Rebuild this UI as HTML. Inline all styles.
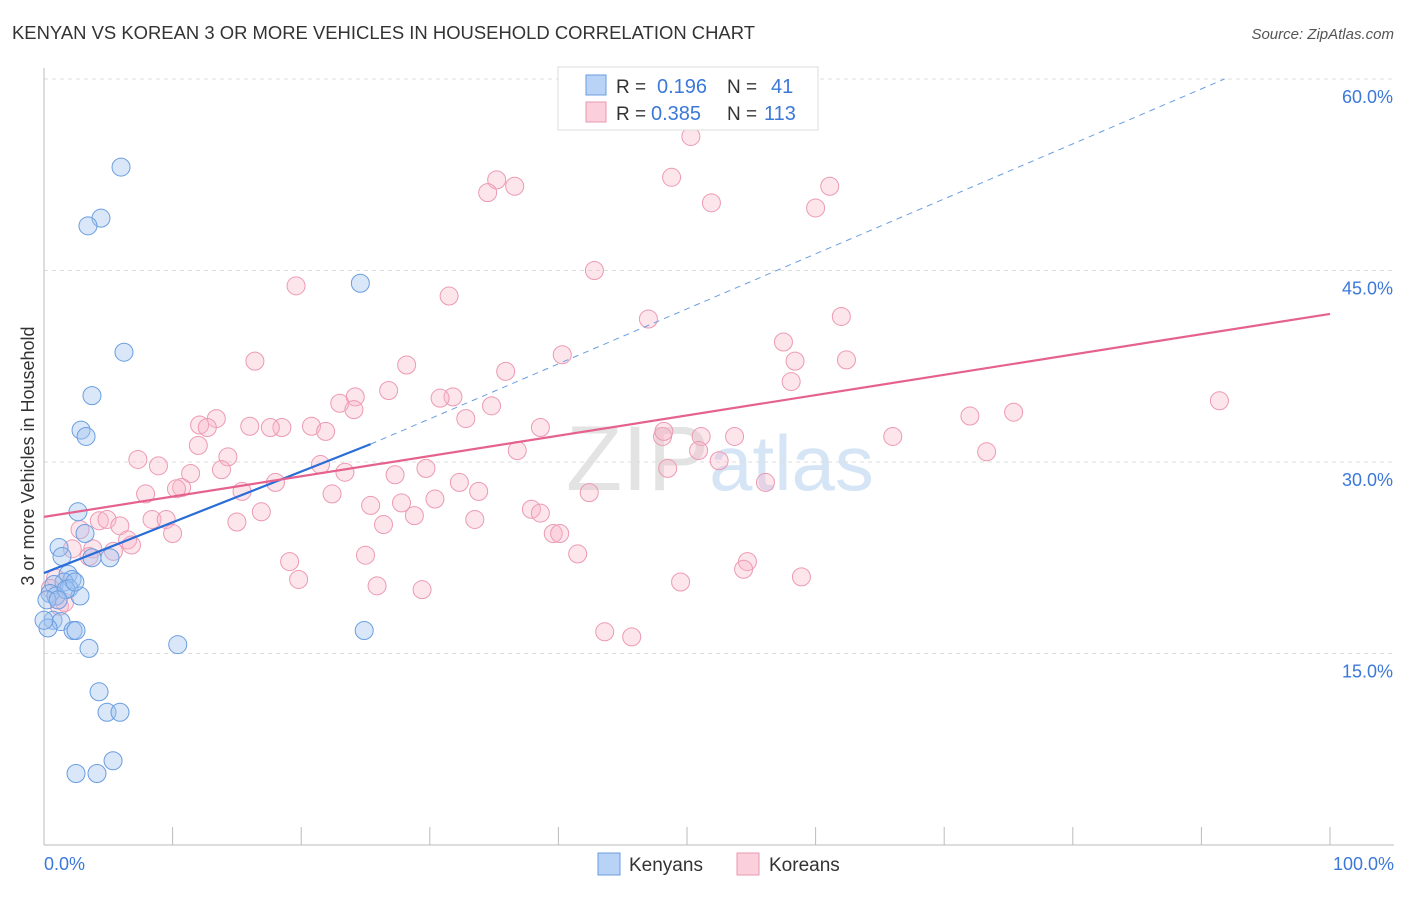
<!DOCTYPE html>
<html><head><meta charset="utf-8"><style>
body{margin:0;background:#fff;font-family:"Liberation Sans",sans-serif}
svg text{font-family:"Liberation Sans",sans-serif}
</style></head><body>
<svg id="chart" width="1406" height="892" xmlns="http://www.w3.org/2000/svg">
<text x="12" y="39" font-size="18" fill="#333" textLength="743" lengthAdjust="spacingAndGlyphs">KENYAN VS KOREAN 3 OR MORE VEHICLES IN HOUSEHOLD CORRELATION CHART</text>
<text x="1394" y="39" font-size="15" fill="#555" text-anchor="end" font-style="italic">Source: ZipAtlas.com</text>
<text x="720" y="490" font-size="92" text-anchor="middle" fill="#e3e3e3" font-family="Liberation Serif">ZIP<tspan fill="#d6e5f6" font-family="Liberation Sans" font-size="78">atlas</tspan></text>
<g id="grid"></g>
<g id="axes"></g>
<g id="marks"></g>
<text transform="translate(34,456) rotate(-90)" font-size="18" fill="#333" text-anchor="middle">3 or more Vehicles in Household</text>
<g>
<rect x="558" y="67" width="260" height="63" fill="#fff" stroke="#ddd"/>
<rect x="586" y="75" width="20" height="20" fill="#b8d3f5" stroke="#6a9ee0"/>
<text x="616" y="93" font-size="19" fill="#333">R =</text>
<text x="657" y="93" font-size="20" fill="#3b78d8">0.196</text>
<text x="727" y="93" font-size="19" fill="#333">N =</text>
<text x="771" y="93" font-size="20" fill="#3b78d8">41</text>
<rect x="586" y="102" width="20" height="20" fill="#fbd0dc" stroke="#ea9ab2"/>
<text x="616" y="120" font-size="19" fill="#333">R =</text>
<text x="651" y="120" font-size="20" fill="#3b78d8">0.385</text>
<text x="727" y="120" font-size="19" fill="#333">N =</text>
<text x="764" y="120" font-size="20" fill="#3b78d8">113</text>
</g>
<g>
<rect x="598" y="853" width="22" height="22" fill="#b8d3f5" stroke="#6a9ee0"/>
<text x="629" y="871" font-size="19" fill="#333">Kenyans</text>
<rect x="737" y="853" width="22" height="22" fill="#fbd0dc" stroke="#ea9ab2"/>
<text x="769" y="871" font-size="19" fill="#333">Koreans</text>
</g>
</svg>
<script>
const yTicks=[15,30,45,60];
const yTickLabels=["15.0%","30.0%","45.0%","60.0%"];
const xTicks=[0,10,20,30,40,50,60,70,80,90,100];
const kenX=[5.99,4.43,3.42,24.6,6.22,3.73,2.88,3.27,2.64,3.19,1.17,1.40,3.73,5.13,1.87,2.18,1.56,0.78,1.94,0.47,0.93,2.80,0.23,0.70,1.32,2.26,2.49,3.50,10.4,24.9,4.28,4.90,5.91,5.37,2.49,4.12,0.31,1.71,0,1.1,2.4];
const kenY=[53.1,49.1,48.5,44.0,38.6,35.2,32.5,32.0,26.1,24.4,23.3,22.6,22.5,22.5,21.2,20.8,20.6,20.4,20.1,19.7,19.5,19.5,19.2,17.6,17.5,16.8,16.8,15.4,15.7,16.8,12.0,10.4,10.4,6.6,5.6,5.6,17.0,20.0,17.6,19.2,20.6];
const korX=[50.3,35.2,36.6,34.5,48.8,51.9,61.1,60.0,42.8,19.6,31.5,47.0,62.0,57.5,40.3,16.4,28.2,58.4,62.4,35.9,26.8,58.1,24.2,31.8,30.8,23.0,24.1,34.8,13.4,12.1,12.7,16.0,18.5,17.6,20.8,21.9,38.6,32.8,91.4,72.0,75.4,66.0,53.7,51.1,48.1,48.2,50.9,36.8,73.3,12.0,14.3,21.5,7.3,8.9,52.5,23.4,11.4,13.8,27.3,29.7,48.5,10.7,10.3,7.9,15.4,22.4,18.0,32.3,33.8,30.4,56.1,42.4,25.4,27.8,16.9,28.8,37.9,38.6,8.4,9.5,4.3,4.9,5.9,15.0,26.4,33.5,2.8,10.0,39.6,40.1,6.5,6.8,2.2,5.4,3.8,3.5,25.0,41.5,54.7,54.4,19.1,58.9,49.5,19.8,25.9,29.4,1.2,0.9,0.5,43.6,45.7,1.6];
const korY=[55.5,52.1,51.6,51.1,52.3,50.3,51.6,49.9,45.0,43.8,43.0,41.2,41.4,39.4,38.4,37.9,37.6,37.9,38.0,37.1,35.6,36.3,35.1,35.1,35.0,34.6,34.1,34.4,33.4,32.9,32.7,32.8,32.7,32.7,32.8,32.4,32.7,33.4,34.8,33.6,33.9,32.0,32.0,32.0,32.0,32.4,30.9,30.9,30.8,31.3,30.4,29.8,30.2,29.7,30.1,29.2,29.1,29.4,29.0,29.5,29.5,28.0,27.9,27.5,27.7,27.5,28.4,28.4,27.7,27.1,28.4,27.6,26.6,26.8,26.1,25.8,26.3,26.0,25.5,25.5,25.4,25.5,25.0,25.3,25.1,25.5,24.7,24.4,24.4,24.4,23.9,23.5,23.2,23.0,23.2,22.6,22.7,22.8,22.2,21.6,22.2,21.0,20.6,20.8,20.3,20.0,18.7,20.9,20.1,16.7,16.3,19.0];
const kenLine=[21.3,31.4,60.0];
const kenLineXs=[0,25.4,91.8];
const korLine=[25.7,41.6];
const korLineXs=[0,100];

const NS="http://www.w3.org/2000/svg";
const X0=44,X1=1330,YB=845,YPX=191.5/15;
const sx=v=>X0+(X1-X0)*v/100;
const sy=v=>YB-v*YPX;
function mk(tag,attrs,parent){const e=document.createElementNS(NS,tag);for(const k in attrs)e.setAttribute(k,attrs[k]);parent.appendChild(e);return e;}
const grid=document.getElementById('grid'),axes=document.getElementById('axes'),marks=document.getElementById('marks');
yTicks.forEach((t,i)=>{
 const l=mk('line',{x1:X0,x2:1394,y1:sy(t),y2:sy(t),stroke:'#ddd','stroke-dasharray':'4,4'},grid);
 
 
 const tx=mk('text',{x:1393,y:sy(t)+24,'font-size':18,fill:'#3b78d8','text-anchor':'end'},axes);
 tx.textContent=yTickLabels[i];
 
 
});
mk('line',{x1:X0,x2:X0,y1:68,y2:YB,stroke:'#bbb'},axes);
mk('line',{x1:X0,x2:1394,y1:YB,y2:YB,stroke:'#bbb'},axes);
xTicks.forEach(t=>{
 const l=mk('line',{x1:sx(t),x2:sx(t),y1:YB,y2:YB-18,stroke:'#bbb'},axes);
 
 
});
const xl0=mk('text',{x:44,y:870,'font-size':18,fill:'#3b78d8'},axes);xl0.textContent='0.0%';


const xl1=mk('text',{x:1394,y:870,'font-size':18,fill:'#3b78d8','text-anchor':'end'},axes);xl1.textContent='100.0%';



korX.forEach((x,i)=>{
 const c=mk('circle',{cx:sx(x),cy:sy(korY[i]),r:9,fill:'rgba(248,180,200,0.35)',stroke:'#ec9ab3','stroke-width':1},marks);
 
 
});
kenX.forEach((x,i)=>{
 const c=mk('circle',{cx:sx(x),cy:sy(kenY[i]),r:9,fill:'rgba(160,195,240,0.4)',stroke:'#6a9ee0','stroke-width':1},marks);
 
 
});
const kd=mk('line',{x1:sx(kenLineXs[1]),y1:sy(kenLine[1]),x2:sx(kenLineXs[2]),y2:sy(kenLine[2]),stroke:'#6a9ee0','stroke-width':1,'stroke-dasharray':'6,5'},marks);


const ks=mk('line',{x1:sx(kenLineXs[0]),y1:sy(kenLine[0]),x2:sx(kenLineXs[1]),y2:sy(kenLine[1]),stroke:'#2a6dd6','stroke-width':2.2},marks);


const kr=mk('line',{x1:sx(korLineXs[0]),y1:sy(korLine[0]),x2:sx(korLineXs[1]),y2:sy(korLine[1]),stroke:'#e5628e','stroke-width':2.2},marks);


</script>
</body></html>
